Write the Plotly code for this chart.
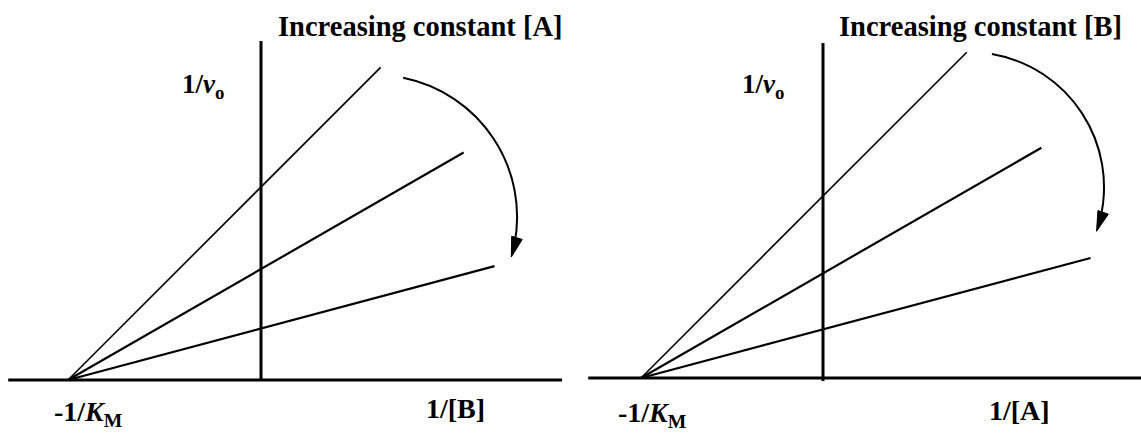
import math
import plotly.graph_objects as go

# Lineweaver-Burk double-reciprocal lines for a two-substrate enzyme.
# All lines meet the x axis at -1/K_M; the y intercept (1/Vmax) falls as the
# fixed co-substrate concentration rises.
km_intercept = -1.0                      # -1/K_M, common x intercept
y_intercepts = [1.0, 0.575, 0.267]       # 1/Vmax for low, mid, high fixed substrate
line_widths = [1.6, 2.2, 2.2]

# Right-hand end of each line (in 1/[S] units) for each panel
left_x_end = [0.62, 1.05, 1.21]
right_x_end = [0.79, 1.20, 1.47]

# Axis extents drawn in each panel
left_axis_x = [-1.31, 1.56]
left_axis_ytop = 1.756
right_axis_x = [-1.29, 1.75]
right_axis_ytop = 1.84

panel_titles = ["Increasing constant [A]", "Increasing constant [B]"]
x_labels = ["1/[B]", "1/[A]"]
y_label = "1/<i>v</i><sub>o</sub>"
km_label = "-1/<i>K</i><sub>M</sub>"

W, H = 1141, 434
SPLIT = 570 / W
FONT = "Liberation Serif"


def line_y(x, b):
    # y = (K_M/Vmax) * x + 1/Vmax, with slope = b / (1/K_M)
    return b * (x - km_intercept) / (-km_intercept)


def arc_path(cx, cy, r, a0, a1, n=4):
    """Cubic Bezier approximation of a circular arc (angles in degrees)."""
    t0, t1 = math.radians(a0), math.radians(a1)
    step = (t1 - t0) / n
    k = 4 / 3 * math.tan(step / 4)
    p = f"M {cx + r*math.cos(t0)},{cy + r*math.sin(t0)}"
    for i in range(n):
        s, e = t0 + i * step, t0 + (i + 1) * step
        x0, y0 = cx + r * math.cos(s), cy + r * math.sin(s)
        x3, y3 = cx + r * math.cos(e), cy + r * math.sin(e)
        x1, y1 = x0 - k * r * math.sin(s), y0 + k * r * math.cos(s)
        x2, y2 = x3 + k * r * math.sin(e), y3 - k * r * math.cos(e)
        p += f" C {x1},{y1} {x2},{y2} {x3},{y3}"
    return p


def arrow_head(cx, cy, r, a_tip, length, half_w):
    t = math.radians(a_tip)
    tx, ty = cx + r * math.cos(t), cy + r * math.sin(t)
    dx, dy = math.sin(t), -math.cos(t)          # clockwise tangent
    bx, by = tx - length * dx, ty - length * dy
    nx, ny = math.cos(t), math.sin(t)
    return (f"M {tx},{ty} L {bx + half_w*nx},{by + half_w*ny} "
            f"L {bx - half_w*nx},{by - half_w*ny} Z")


fig = go.Figure()
shapes = []
annotations = []

panels = [
    dict(xa="x", ya="y", x_end=left_x_end, ax=left_axis_x, ytop=left_axis_ytop,
         ybot=0.0, arc=(0.591, 0.845, 0.736, 78.6, -16.4), scale=193,
         title_xy=(0.826, 1.834), vlab_xy=(-0.30, 1.525), km_xy=(-0.896, -0.176),
         xl_xy=(1.010, -0.150)),
    dict(xa="x2", ya="y2", x_end=right_x_end, ax=right_axis_x, ytop=right_axis_ytop,
         ybot=-0.016, arc=(0.802, 1.049, 0.742, 80.2, -19.1), scale=182,
         title_xy=(0.868, 1.934), vlab_xy=(-0.33, 1.607), km_xy=(-0.94, -0.198),
         xl_xy=(1.077, -0.180)),
]

for i, p in enumerate(panels):
    for b, xe, lw in zip(y_intercepts, p["x_end"], line_widths):
        fig.add_trace(go.Scatter(
            x=[km_intercept, xe], y=[line_y(km_intercept, b), line_y(xe, b)],
            mode="lines", line=dict(color="black", width=lw),
            xaxis=p["xa"], yaxis=p["ya"], showlegend=False, hoverinfo="skip"))

    # axes through the origin
    shapes.append(dict(type="line", xref=p["xa"], yref=p["ya"],
                       x0=p["ax"][0], x1=p["ax"][1], y0=0, y1=0,
                       line=dict(color="black", width=3)))
    shapes.append(dict(type="line", xref=p["xa"], yref=p["ya"],
                       x0=0, x1=0, y0=p["ybot"], y1=p["ytop"],
                       line=dict(color="black", width=3)))

    # curved arrow showing the direction of increasing fixed substrate
    cx, cy, r, a0, a1 = p["arc"]
    head_len = 20 / p["scale"]
    a_end = a1 + math.degrees(head_len * 0.6 / r)
    shapes.append(dict(type="path", xref=p["xa"], yref=p["ya"],
                       path=arc_path(cx, cy, r, a0, a_end),
                       line=dict(color="black", width=2)))
    shapes.append(dict(type="path", xref=p["xa"], yref=p["ya"],
                       path=arrow_head(cx, cy, r, a1, head_len, 5.5 / p["scale"]),
                       fillcolor="black", line=dict(color="black", width=1)))

    def label(text, xy, size):
        annotations.append(dict(text=f"<b>{text}</b>", x=xy[0], y=xy[1],
                                xref=p["xa"], yref=p["ya"], showarrow=False,
                                xanchor="center", yanchor="middle",
                                font=dict(family=FONT, size=size, color="black")))

    label(panel_titles[i], p["title_xy"], 28.5)
    label(y_label, p["vlab_xy"], 27)
    label(km_label, p["km_xy"], 28)
    label(x_labels[i], p["xl_xy"], 28)

# Axis ranges: each panel spans its half of the figure with equal x/y scale
l_s, r_s = 193, 182
fig.update_layout(
    width=W, height=H,
    margin=dict(l=0, r=0, t=0, b=0),
    paper_bgcolor="white", plot_bgcolor="white",
    xaxis=dict(domain=[0, SPLIT], range=[-261 / l_s, (570 - 261) / l_s], visible=False),
    yaxis=dict(domain=[0, 1], range=[(380 - 434) / l_s, 380 / l_s], visible=False),
    xaxis2=dict(domain=[SPLIT, 1], range=[(570 - 823) / r_s, (1141 - 823) / r_s],
                visible=False, anchor="y2"),
    yaxis2=dict(domain=[0, 1], range=[(378 - 434) / r_s, 378 / r_s], visible=False,
                anchor="x2"),
    shapes=shapes,
    annotations=annotations,
)

fig.write_html("out.html")
